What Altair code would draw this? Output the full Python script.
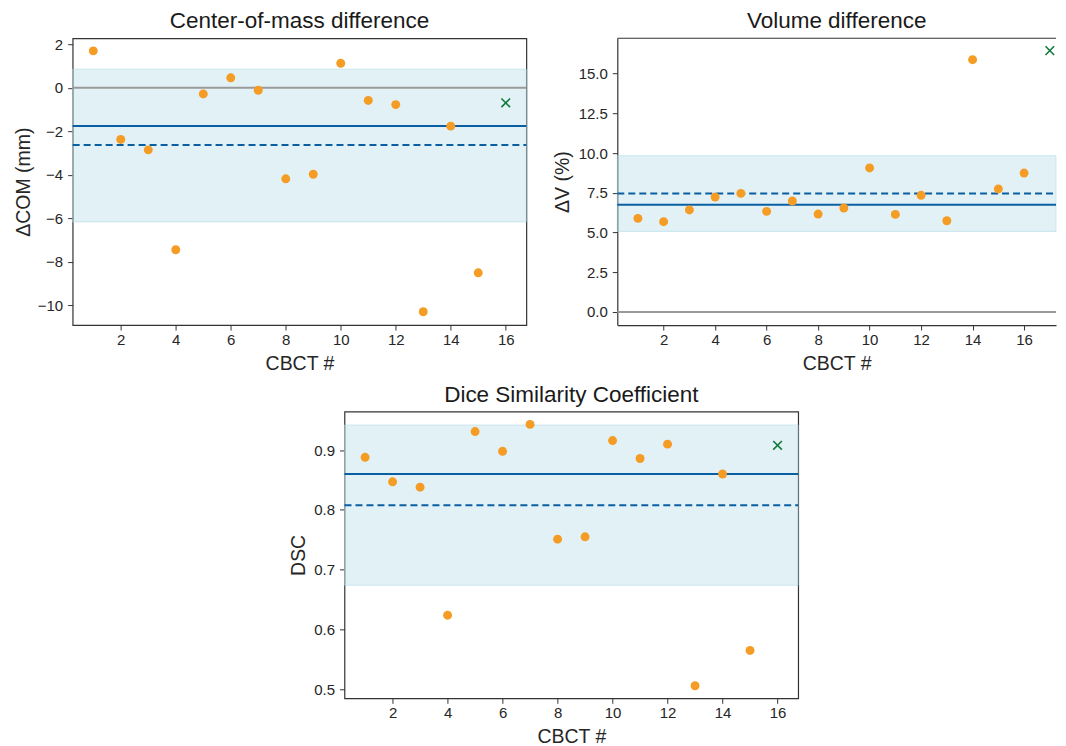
import altair as alt
import pandas as pd

FONT = "Liberation Sans"
ORANGE = "#f59c25"
BLUE = "#0a5fa3"
GREEN = "#117a3b"
GRAY = "#9a9a9a"
BAND = "#add8e6"
TXT = "#262626"

# ---------------- data ----------------
cbct_15 = [1, 2, 3, 4, 5, 6, 7, 8, 9, 10, 11, 12, 13, 14, 15]
cbct_16 = [1, 2, 3, 4, 5, 6, 7, 8, 9, 10, 11, 12, 13, 14, 15, 16]

com_values = [1.70, -2.37, -2.85, -7.44, -0.28, 0.46, -0.11, -4.18, -3.97, 1.13, -0.58, -0.77, -10.29, -1.76, -8.50]
com_extra_x = [16]
com_extra_y = [-0.69]
com_median = [-1.75]
com_mean = [-2.63]
com_band = [-6.16, 0.86]

vol_values = [5.89, 5.68, 6.42, 7.23, 7.46, 6.33, 6.98, 6.16, 6.54, 9.06, 6.14, 7.34, 5.74, 15.87, 7.74, 8.74]
vol_extra_x = [17]
vol_extra_y = [16.44]
vol_median = [6.75]
vol_mean = [7.46]
vol_band = [5.07, 9.83]

dsc_values = [0.888, 0.847, 0.838, 0.624, 0.931, 0.898, 0.943, 0.751, 0.755, 0.916, 0.886, 0.910, 0.506, 0.860, 0.565]
dsc_extra_x = [16]
dsc_extra_y = [0.908]
dsc_median = [0.860]
dsc_mean = [0.808]
dsc_band = [0.674, 0.942]

zero_line = [0.0]

x_ticks = [2, 4, 6, 8, 10, 12, 14, 16]
com_ticks = [-10, -8, -6, -4, -2, 0, 2]
vol_ticks = [0.0, 2.5, 5.0, 7.5, 10.0, 12.5, 15.0]
dsc_ticks = [0.5, 0.6, 0.7, 0.8, 0.9]

TICK_FS = 15
LABEL_FS = 19.5
TITLE_FS = 22.5


def panel(xs, ys, ex_x, ex_y, med, mean, band, zero, title, ytitle, xdom, ydom,
          yticks, yfmt, width, height, ytitle_pad, border=True):
    xscale = alt.Scale(domain=xdom, nice=False, zero=False)
    yscale = alt.Scale(domain=ydom, nice=False, zero=False)
    xaxis = alt.Axis(values=x_ticks, title="CBCT #", grid=False, tickSize=5,
                     tickColor="#333333", tickWidth=1, domain=not border,
                     domainColor="#333333", domainWidth=1.2,
                     labelFont=FONT, labelFontSize=TICK_FS, labelColor=TXT, labelPadding=2.5,
                     titleFont=FONT, titleFontSize=LABEL_FS, titleFontWeight="normal",
                     titleColor=TXT, titlePadding=7, labelFlush=False)
    yaxis = alt.Axis(values=yticks, format=yfmt, title=ytitle, grid=False, tickSize=5,
                     tickColor="#333333", tickWidth=1, domain=not border,
                     domainColor="#333333", domainWidth=1.2,
                     labelFont=FONT, labelFontSize=TICK_FS, labelColor=TXT, labelPadding=5,
                     titleFont=FONT, titleFontSize=LABEL_FS, titleFontWeight="normal",
                     titleColor=TXT, titlePadding=ytitle_pad, labelFlush=False)

    band_df = pd.DataFrame({"lo": [band[0]], "hi": [band[1]]})
    pts_df = pd.DataFrame({"x": xs, "y": ys})
    ex_df = pd.DataFrame({"x": ex_x, "y": ex_y})

    layers = []
    layers.append(alt.Chart(band_df).mark_rect(
        fill=BAND, fillOpacity=0.36, stroke=BAND, strokeOpacity=0.55, strokeWidth=1
    ).encode(
        y=alt.Y("lo:Q", scale=yscale, axis=yaxis), y2="hi:Q",
        x=alt.value(0), x2=alt.value(width)
    ))
    if zero:
        layers.append(alt.Chart(pd.DataFrame({"v": zero})).mark_rule(
            color=GRAY, strokeWidth=2
        ).encode(y=alt.Y("v:Q", scale=yscale, axis=yaxis), x=alt.value(0), x2=alt.value(width)))
    layers.append(alt.Chart(pd.DataFrame({"v": med})).mark_rule(
        color=BLUE, strokeWidth=2
    ).encode(y=alt.Y("v:Q", scale=yscale, axis=yaxis), x=alt.value(0), x2=alt.value(width)))
    layers.append(alt.Chart(pd.DataFrame({"v": mean})).mark_rule(
        color=BLUE, strokeWidth=2, strokeDash=[7, 4]
    ).encode(y=alt.Y("v:Q", scale=yscale, axis=yaxis), x=alt.value(0), x2=alt.value(width)))
    layers.append(alt.Chart(pts_df).mark_circle(size=80, color=ORANGE, opacity=1).encode(
        x=alt.X("x:Q", scale=xscale, axis=xaxis),
        y=alt.Y("y:Q", scale=yscale, axis=yaxis),
    ))
    layers.append(alt.Chart(ex_df).mark_point(
        shape="M-1,-1L1,1M-1,1L1,-1", filled=False, color=GREEN, strokeWidth=1.6,
        size=75, opacity=1
    ).encode(
        x=alt.X("x:Q", scale=xscale, axis=xaxis),
        y=alt.Y("y:Q", scale=yscale, axis=yaxis),
    ))
    if not border:
        layers.append(alt.Chart(pd.DataFrame({"v": [0]})).mark_rule(
            color="#333333", strokeWidth=1.2
        ).encode(x=alt.value(0), x2=alt.value(width), y=alt.value(0)))
    view = (alt.ViewBackground(stroke="#333333", strokeWidth=1.2) if border
            else alt.ViewBackground(stroke=None))
    return alt.layer(*layers).properties(
        width=width, height=height, view=view,
        title=alt.TitleParams(title, font=FONT, fontSize=TITLE_FS, fontWeight="normal",
                              color="#1a1a1a", offset=4.7, anchor="middle"),
    )


p1 = panel(cbct_15, com_values, com_extra_x, com_extra_y, com_median, com_mean, com_band,
           zero_line, "Center-of-mass difference", "ΔCOM (mm)", [0.25, 16.75], [-10.9, 2.28],
           com_ticks, "d", 454, 287, 3.3)
p2 = panel(cbct_16, vol_values, vol_extra_x, vol_extra_y, vol_median, vol_mean, vol_band,
           zero_line, "Volume difference", "ΔV (%)", [0.2, 17.24], [-0.82, 17.22],
           vol_ticks, ".1f", 439, 287, 5.6, border=False)
p3 = panel(cbct_15, dsc_values, dsc_extra_x, dsc_extra_y, dsc_median, dsc_mean, dsc_band,
           None, "Dice Similarity Coefficient", "DSC", [0.25, 16.75], [0.485, 0.9646],
           dsc_ticks, ".1f", 454, 287, 4.7)

spacer = alt.Chart(pd.DataFrame({"a": [0]})).mark_point(opacity=0).encode(
    x=alt.value(0), y=alt.value(0)
).properties(width=262, height=10, view=alt.ViewBackground(stroke=None))

top = alt.hconcat(p1, p2, spacing=91, bounds="flush")
bottom = alt.hconcat(spacer, p3, spacing=10, bounds="flush")

chart = alt.vconcat(top, bottom, spacing=373.5, bounds="flush").properties(
    padding={"left": 4.7, "top": 1, "right": 0, "bottom": 0}
).configure(background="white")

chart.save("out.html", embed_options={"renderer": "svg", "actions": False})
